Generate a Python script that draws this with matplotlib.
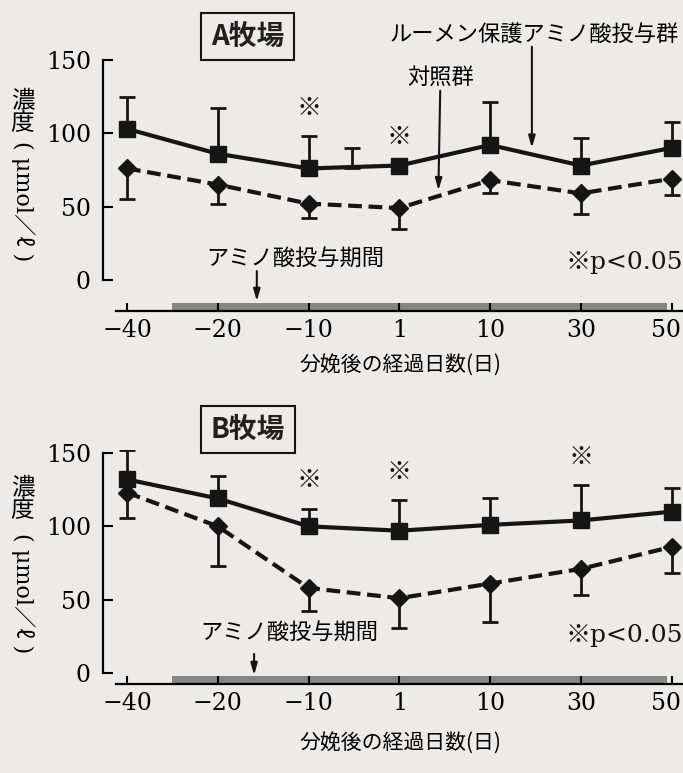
import numpy as np
import matplotlib.pyplot as plt
from matplotlib.transforms import ScaledTranslation

plt.rcParams['font.family'] = ['Noto Sans CJK JP', 'DejaVu Sans']

days = ['\u221240', '\u221220', '\u221210', '1', '10', '30', '50']

# A farm
a_amino = [103, 86, 76, 78, 92, 78, 90]
a_amino_top = [125, 117, 98, 78, 121, 97, 108]
a_ctrl = [76, 65, 52, 49, 68, 59, 69]
a_ctrl_low = [55, 52, 42, 35, 59, 45, 58]
a_sig = [2, 3]
a_stray = (2.48, 76, 90)  # lone error bar printed between -10 and 1

# B farm
b_amino = [132, 119, 100, 97, 101, 104, 110]
b_amino_top = [152, 134, 112, 118, 119, 128, 126]
b_ctrl = [123, 100, 58, 51, 61, 71, 86]
b_ctrl_low = [106, 73, 42, 31, 35, 53, 68]
b_sig = [2, 3, 5]

period = (0.5, 5.95)  # amino acid feeding period on the day axis

SERIF = 'DejaVu Serif'
BG = '#ecebe8'
INK = '#151515'


def arrow(ax, tip, start):
    ax.annotate('', xy=tip, xytext=start, annotation_clip=False,
                arrowprops=dict(arrowstyle='-|>,head_length=0.7,head_width=0.2',
                                lw=1.5, color=INK, shrinkA=0, shrinkB=0))


def panel(ax, name, amino, top, ctrl, low, sig, ybot):
    x = np.arange(len(days))
    amino = np.array(amino)
    ctrl = np.array(ctrl)
    up = np.array(top) - amino
    dn = ctrl - np.array(low)

    ax.errorbar(x, amino, yerr=[np.zeros(len(x)), up], fmt='none', ecolor=INK,
                elinewidth=2, capsize=6, capthick=2, zorder=2)
    ax.errorbar(x, ctrl, yerr=[dn, np.zeros(len(x))], fmt='none', ecolor=INK,
                elinewidth=2, capsize=6, capthick=2, zorder=2)
    ax.plot(x, amino, '-', color=INK, lw=3, marker='s', ms=11, zorder=3)
    ax.plot(x, ctrl, color=INK, lw=3, ls=(0, (3.3, 1.6)), marker='D', ms=9.5,
            zorder=3)

    for i in sig:
        ax.annotate('\u203b', (x[i], max(top[i], amino[i])), xytext=(0, 11),
                    textcoords='offset points', ha='center', va='bottom', fontsize=18,
                    color=INK)

    ax.set_xlim(-0.26, 6.12)
    ax.set_ylim(ybot, 152)
    ax.set_facecolor('none')
    for s in ['top', 'right']:
        ax.spines[s].set_visible(False)
    ax.spines['left'].set_bounds(0, 150)
    ax.spines['bottom'].set_bounds(-0.12, 6.12)
    ax.spines['left'].set_linewidth(1.6)
    ax.spines['bottom'].set_linewidth(1.6)
    ax.set_xticks(x)
    ax.set_xticklabels(days, fontfamily=SERIF, fontsize=17)
    ax.set_yticks([0, 50, 100, 150])
    ax.set_yticklabels(['0', '50', '100', '150'], fontfamily=SERIF, fontsize=17)
    ax.tick_params(axis='x', direction='in', length=6, width=1.5, pad=6)
    ax.tick_params(axis='y', direction='in', length=7, width=1.5, pad=9)
    last = ax.get_xticklabels()[-1]
    last.set_transform(last.get_transform() +
                       ScaledTranslation(-0.06, 0, ax.figure.dpi_scale_trans))

    # feeding period band above the day axis
    ax.fill_between(period, ybot, ybot + 5.5, color='#858585', lw=0, zorder=1)

    ax.text(1.33, 166, name, ha='center', va='center', fontsize=20, weight='bold',
            color='#202020',
            bbox=dict(boxstyle='square,pad=0.35', fc='none', ec=INK, lw=1.5))
    ax.text(6.12, ybot + 33, '\u203bp<0.05', ha='right', va='center', fontsize=18,
            family=[SERIF, 'Noto Sans CJK JP'], color=INK)


fig = plt.figure(figsize=(6.83, 7.73), dpi=100)
fig.patch.set_facecolor(BG)

axA = fig.add_axes([0.1514, 0.598, 0.848, 0.3283])
axB = fig.add_axes([0.1514, 0.1151, 0.848, 0.3027])

panel(axA, 'A牧場', a_amino, a_amino_top, a_ctrl, a_ctrl_low, a_sig, -21)
panel(axB, 'B牧場', b_amino, b_amino_top, b_ctrl, b_ctrl_low, b_sig, -7.5)

axA.errorbar([a_stray[0]], [a_stray[1]], yerr=[[0], [a_stray[2] - a_stray[1]]],
             fmt='none', ecolor=INK, elinewidth=2, capsize=6, capthick=2)

# labels with arrows, panel A
axA.text(4.48, 167, 'ルーメン保護アミノ酸投与群', ha='center', va='center', fontsize=16)
arrow(axA, (4.46, 90), (4.46, 159))
axA.text(3.45, 138, '対照群', ha='center', va='center', fontsize=16)
arrow(axA, (3.43, 61), (3.45, 129))
axA.text(1.85, 15, 'アミノ酸投与期間', ha='center', va='center', fontsize=16)
arrow(axA, (1.43, -14.5), (1.43, 6))

# panel B
axB.text(1.79, 28, 'アミノ酸投与期間', ha='center', va='center', fontsize=16)
arrow(axB, (1.4, -1.5), (1.4, 13))

for top_y in [0.528, 0.039]:
    fig.text(0.586, top_y, '分娩後の経過日数(日)', ha='center', va='center', fontsize=15)

# vertical y label: upright kanji, then the unit turned clockwise
for y0, yc in [(0.884, 0.74), (0.383, 0.233)]:
    fig.text(0.033, y0, '濃\n度', ha='center', va='top', fontsize=17, linespacing=0.95)
    fig.text(0.033, yc, '( \u03bcmol\uff0f\u2113 )', ha='center', va='center',
             rotation=-90, fontsize=16, family=['DejaVu Serif', 'Noto Sans CJK JP'])

fig.savefig('out.png', dpi=100, facecolor=BG)
